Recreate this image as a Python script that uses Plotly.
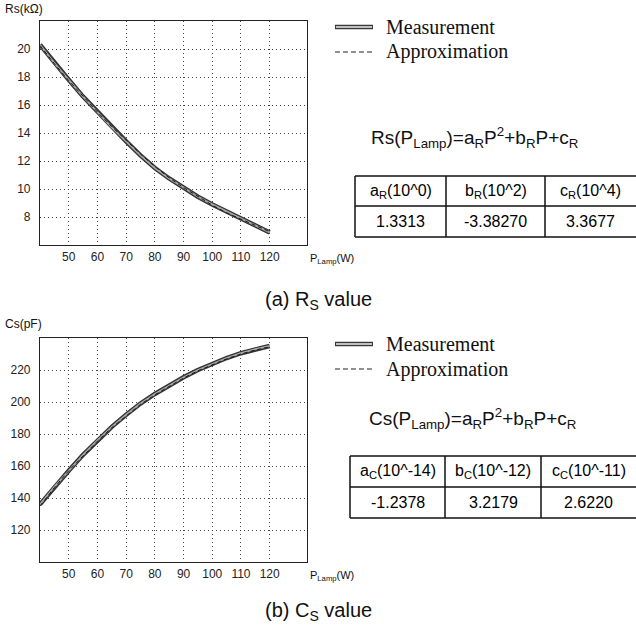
import plotly.graph_objects as go

W, H = 636, 628

# ---------------- data ----------------
P_lamp = [40, 45, 50, 55, 60, 65, 70, 75, 80, 85, 90, 95, 100, 105, 110, 115, 120]
rs_measured = [20.3, 19.0, 17.8, 16.6, 15.5, 14.4, 13.4, 12.4, 11.5, 10.75, 10.1, 9.45, 8.9, 8.4, 7.9, 7.4, 6.9]
rs_approx = [20.25, 18.95, 17.75, 16.6, 15.5, 14.45, 13.45, 12.5, 11.6, 10.8, 10.1, 9.45, 8.85, 8.3, 7.85, 7.4, 6.95]
cs_measured = [136, 147, 157, 167, 176, 184.5, 192, 199, 205, 210.5, 215.5, 220, 224, 227.5, 230.5, 233, 235]
cs_approx = [135, 146.5, 157, 166.5, 175.5, 184, 191.5, 198.5, 204.5, 210, 215, 219.5, 223.5, 227, 230, 232.5, 234.5]

x_ticks = [50, 60, 70, 80, 90, 100, 110, 120]
rs_ticks = [8, 10, 12, 14, 16, 18, 20]
cs_ticks = [120, 140, 160, 180, 200, 220]

rs_table_head = ["a<sub>R</sub>(10^0)", "b<sub>R</sub>(10^2)", "c<sub>R</sub>(10^4)"]
rs_table_vals = ["1.3313", "-3.38270", "3.3677"]
cs_table_head = ["a<sub>C</sub>(10^-14)", "b<sub>C</sub>(10^-12)", "c<sub>C</sub>(10^-11)"]
cs_table_vals = ["-1.2378", "3.2179", "2.6220"]

rs_formula = "Rs(P<sub>Lamp</sub>)=a<sub>R</sub>P<sup>2</sup>+b<sub>R</sub>P+c<sub>R</sub>"
cs_formula = "Cs(P<sub>Lamp</sub>)=a<sub>R</sub>P<sup>2</sup>+b<sub>R</sub>P+c<sub>R</sub>"


def fx(px):
    return px / W


def fy(py):
    return 1 - py / H


fig = go.Figure()

panels = [
    ("x", "y", rs_measured, rs_approx),
    ("x2", "y2", cs_measured, cs_approx),
]
for xa, ya, meas, appr in panels:
    fig.add_trace(go.Scatter(x=P_lamp, y=meas, xaxis=xa, yaxis=ya, mode="lines",
                             line=dict(color="#333333", width=4.5), showlegend=False, hoverinfo="skip"))
    fig.add_trace(go.Scatter(x=P_lamp, y=meas, xaxis=xa, yaxis=ya, mode="lines",
                             line=dict(color="#a8a8a8", width=1.8), showlegend=False, hoverinfo="skip"))
    fig.add_trace(go.Scatter(x=P_lamp, y=appr, xaxis=xa, yaxis=ya, mode="lines",
                             line=dict(color="#1a1a1a", width=1, dash="4px,3px"), showlegend=False,
                             hoverinfo="skip"))

axis_common = dict(
    showline=True, linecolor="#222", linewidth=1.2, mirror=True,
    showgrid=True, gridcolor="#444", gridwidth=1, griddash="1px,3px",
    zeroline=False, ticks="", ticklen=0,
    tickfont=dict(family="Liberation Sans, Arial", size=12, color="#222"),
)

fig.update_layout(
    width=W, height=H,
    margin=dict(l=0, r=0, t=0, b=0),
    paper_bgcolor="white", plot_bgcolor="white",
    xaxis=dict(domain=[fx(40), fx(307)], range=[40, 133], tickvals=x_ticks, anchor="y",
               ticklabelstandoff=0, **axis_common),
    yaxis=dict(domain=[fy(245), fy(21)], range=[6, 22], tickvals=rs_ticks, anchor="x",
               ticklabelstandoff=6, **axis_common),
    xaxis2=dict(domain=[fx(40), fx(307)], range=[40, 133], tickvals=x_ticks, anchor="y2",
                ticklabelstandoff=0, **axis_common),
    yaxis2=dict(domain=[fy(562), fy(338)], range=[100, 240], tickvals=cs_ticks, anchor="x2",
                ticklabelstandoff=6, **axis_common),
)

ann = []
shapes = []
sans = "Liberation Sans, Arial"
serif = "Liberation Serif, Times New Roman"


def text(x, y, t, size, family=sans, xanchor="left", color="#111"):
    ann.append(dict(x=fx(x), y=fy(y), xref="paper", yref="paper", text=t, showarrow=False,
                    xanchor=xanchor, yanchor="middle", font=dict(family=family, size=size, color=color)))


def line(x0, y0, x1, y1, width=1.5, color="#111", dash="solid"):
    shapes.append(dict(type="line", xref="paper", yref="paper", x0=fx(x0), y0=fy(y0), x1=fx(x1), y1=fy(y1),
                       line=dict(color=color, width=width, dash=dash)))


# axis titles
text(3, 9, "Rs(kΩ)", 12)
text(3, 324, "Cs(pF)", 12)
text(308, 259, "P<sub>Lamp</sub>(W)", 11)
text(308, 576, "P<sub>Lamp</sub>(W)", 11)

# captions
text(318, 300, "(a) R<sub>S</sub> value", 20, xanchor="center")
text(318, 611, "(b) C<sub>S</sub> value", 20, xanchor="center")

# legends
for ym, ya in [(27, 52), (344, 369)]:
    line(335, ym, 373, ym, width=4.5, color="#3a3a3a")
    line(336, ym, 372, ym, width=1.8, color="#c0c0c0")
    line(335, ya, 373, ya, width=1, color="#222", dash="5px,3px")
    text(384, ym, "Measurement", 20, family=serif)
    text(384, ya, "Approximation", 20, family=serif)

# formulas
text(369, 137, rs_formula, 19)
text(367, 418, cs_formula, 19)


# tables
def table(left, cols, top, mid, bottom, heads, vals):
    right = 645
    xs = [left] + cols + [right]
    line(left, top, right, top)
    line(left, mid, right, mid)
    line(left, bottom, right, bottom)
    for xv in [left] + cols:
        line(xv, top, xv, bottom)
    for i in range(3):
        cx = (xs[i] + min(xs[i + 1], 636)) / 2
        text(cx, (top + mid) / 2, heads[i], 16, xanchor="center", color="#000")
        text(cx, (mid + bottom) / 2, vals[i], 16, xanchor="center", color="#000")


table(355, [446, 545], 176, 206, 237, rs_table_head, rs_table_vals)
table(350, [445, 541], 456, 487, 518, cs_table_head, cs_table_vals)

fig.update_layout(annotations=ann, shapes=shapes)
fig.write_html("out.html", config={"displayModeBar": False},
               post_script="document.body.style.margin='0';document.body.style.overflow='hidden';")
